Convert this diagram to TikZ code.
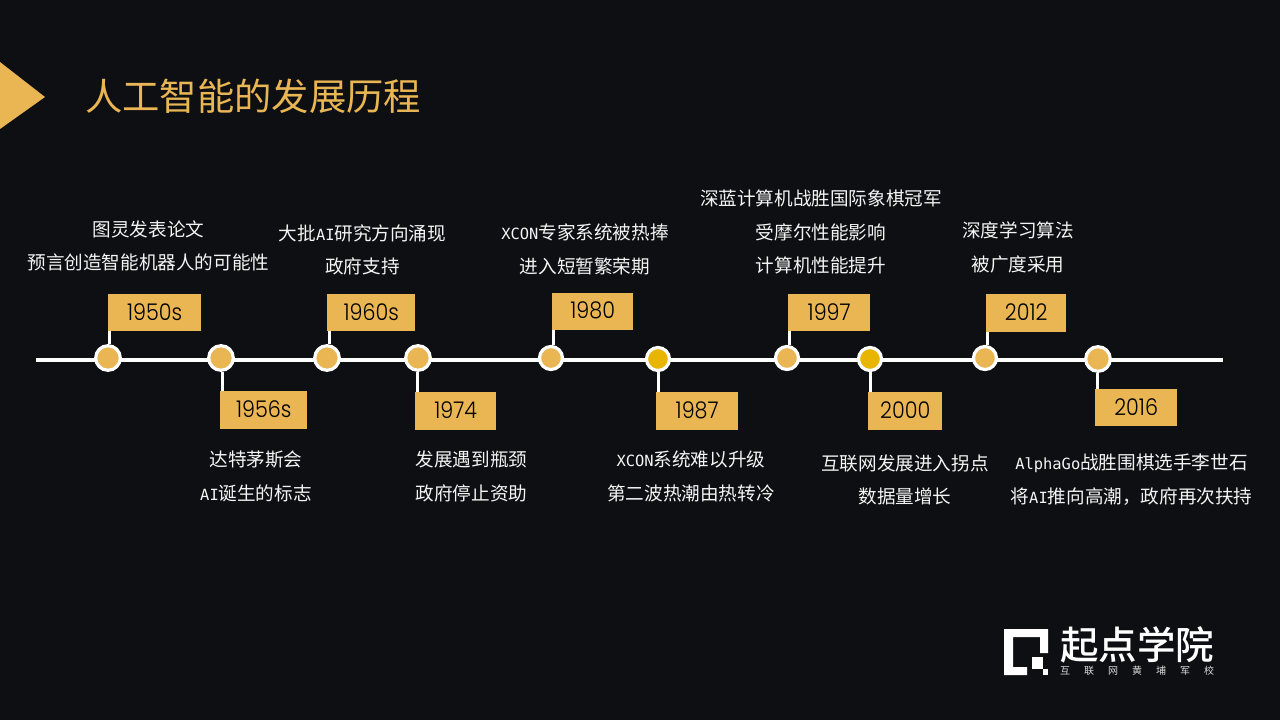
\documentclass[tikz,border=0pt]{standalone}
\usepackage{fontspec}
\setmainfont{Noto Sans CJK SC}
\newfontfamily\yearfont{Poppins Light}[FakeStretch=0.9]
\newfontfamily\latf{DejaVu Sans Mono}[Scale=0.83]
\newfontfamily\logofont{Noto Sans CJK SC Medium}
\newcommand{\lat}[1]{{\latf #1}}
\definecolor{bg}{HTML}{0D0F13}
\definecolor{gold}{HTML}{EAB654}
\definecolor{goldd}{HTML}{E8B500}
\definecolor{tx}{HTML}{F4F4F4}
\tikzset{x=1pt,y=-1pt,
 yearbox/.style={fill=gold,inner sep=0pt,anchor=north west},
 yeartext/.style={text=black,font=\yearfont\fontsize{23}{23}\selectfont,inner sep=0pt},
 dot/.style={circle,fill=gold,draw=white,line width=3.2pt,minimum size=24.6pt,inner sep=0pt},
 smalldot/.style={dot,minimum size=23pt},
 dotb/.style={smalldot,fill=goldd},
 stem/.style={draw=white,line width=3pt},
 captext/.style={text=tx,font=\fontsize{18.6}{18.6}\selectfont,inner sep=0pt,anchor=center},
}
\newcommand{\yearb}[6]{\node[yearbox,minimum width=#4pt,minimum height=#5pt] (#1) at (#2,#3) {}; \node[yeartext] (#1t) at ([yshift=1pt]#1.center) {#6};}
\begin{document}
\begin{tikzpicture}
\useasboundingbox (0,0) rectangle (1280,720);
\fill[bg] (0,0) rectangle (1280,720);
\fill[gold] (0,62) -- (45,97) -- (0,129) -- cycle;
\node[anchor=west,inner sep=0pt,text=gold,font=\fontsize{37.3}{37.3}\selectfont] (title) at (85,96) {人工智能的发展历程};
\coordinate (ls) at (36,359.5); \coordinate (le) at (1223,359.5);
\draw[white,line width=4pt] (ls) -- (le);
\yearb{y1}{108}{294}{93}{37}{1950s}
\yearb{y2}{220}{391}{87}{38}{1956s}
\yearb{y3}{327}{294}{88}{37}{1960s}
\yearb{y4}{415}{392}{81}{38}{1974}
\yearb{y5}{552}{293}{81}{37}{1980}
\yearb{y6}{656}{392}{82}{38}{1987}
\yearb{y7}{788}{294}{82}{37}{1997}
\yearb{y8}{868}{392}{74}{38}{2000}
\yearb{y9}{986}{294}{80}{38}{2012}
\yearb{y10}{1095}{389}{82}{37}{2016}
\node[dot] (d1) at (108,358) {};
\node[dot] (d2) at (221,358) {};
\node[dot] (d3) at (327,358) {};
\node[dot] (d4) at (418,358) {};
\node[smalldot] (d5) at (551,358) {};
\node[dotb] (d6) at (658,359) {};
\node[smalldot] (d7) at (787,358) {};
\node[dotb] (d8) at (870,359) {};
\node[smalldot] (d9) at (985,358) {};
\node[dot] (d10) at (1098,359) {};
\draw[stem] ([xshift=1.3pt]d1.north) -- ([xshift=1.3pt]d1.north |- y1.south);
\draw[stem] ([xshift=1pt]d2.south) -- ([xshift=1pt]d2.south |- y2.north);
\draw[stem] ([xshift=2pt]d3.north) -- ([xshift=2pt]d3.north |- y3.south);
\draw[stem] ([xshift=-1pt]d4.south) -- ([xshift=-1pt]d4.south |- y4.north);
\draw[stem] ([xshift=2pt]d5.north) -- ([xshift=2pt]d5.north |- y5.south);
\draw[stem] (d6.south) -- (d6.south |- y6.north);
\draw[stem] ([xshift=2pt]d7.north) -- ([xshift=2pt]d7.north |- y7.south);
\draw[stem] (d8.south) -- (d8.south |- y8.north);
\draw[stem] ([xshift=2pt]d9.north) -- ([xshift=2pt]d9.north |- y9.south);
\draw[stem] ([xshift=-1pt]d10.south) -- ([xshift=-1pt]d10.south |- y10.north);
\node[captext] (c1a) at (148.5,229.5) {图灵发表论文};
\node[captext] (c1b) at (148.5,262.5) {预言创造智能机器人的可能性};
\node[captext] (c2a) at (256,459.5) {达特茅斯会};
\node[captext] (c2b) at (256,493.5) {\lat{AI}诞生的标志};
\node[captext] (c3a) at (362.5,233) {大批\lat{AI}研究方向涌现};
\node[captext] (c3b) at (362.5,266.5) {政府支持};
\node[captext] (c4a) at (471.5,459.5) {发展遇到瓶颈};
\node[captext] (c4b) at (471.5,493.5) {政府停止资助};
\node[captext] (c5a) at (585,232.5) {\lat{XCON}专家系统被热捧};
\node[captext] (c5b) at (585,266.5) {进入短暂繁荣期};
\node[captext] (c6a) at (691,459.5) {\lat{XCON}系统难以升级};
\node[captext] (c6b) at (691,493.5) {第二波热潮由热转冷};
\node[captext] (c7a) at (821,198.5) {深蓝计算机战胜国际象棋冠军};
\node[captext] (c7b) at (821,232.5) {受摩尔性能影响};
\node[captext] (c7c) at (821,265.5) {计算机性能提升};
\node[captext] (c8a) at (905,463.5) {互联网发展进入拐点};
\node[captext] (c8b) at (905,496.5) {数据量增长};
\node[captext] (c9a) at (1018,230.5) {深度学习算法};
\node[captext] (c9b) at (1018,264.5) {被广度采用};
\node[captext] (c10a) at (1131.5,463.5) {\lat{AlphaGo}战胜围棋选手李世石};
\node[captext] (c10b) at (1131.5,496.5) {将\lat{AI}推向高潮，政府再次扶持};
% logo
\fill[white] (1004,629) -- (1048,629) -- (1048,653) -- (1040,653) -- (1040,637) -- (1013,637) -- (1013,667) -- (1027,667) -- (1027,675) -- (1004,675) -- cycle;
\fill[white] (1032,657) rectangle (1043,669);
\fill[white] (1043,669) rectangle (1048,675);
\node[anchor=west,inner sep=0pt,text=white,font=\logofont\fontsize{38.5}{38.5}\selectfont] (logo) at (1060,645) {起点学院};
\node[anchor=center,inner sep=0pt,text=white!85!black,font=\fontsize{10}{10}\selectfont] (sub) at (1137,671) {互\hspace{14pt}联\hspace{14pt}网\hspace{14pt}黄\hspace{14pt}埔\hspace{14pt}军\hspace{14pt}校};
\end{tikzpicture}
\end{document}
